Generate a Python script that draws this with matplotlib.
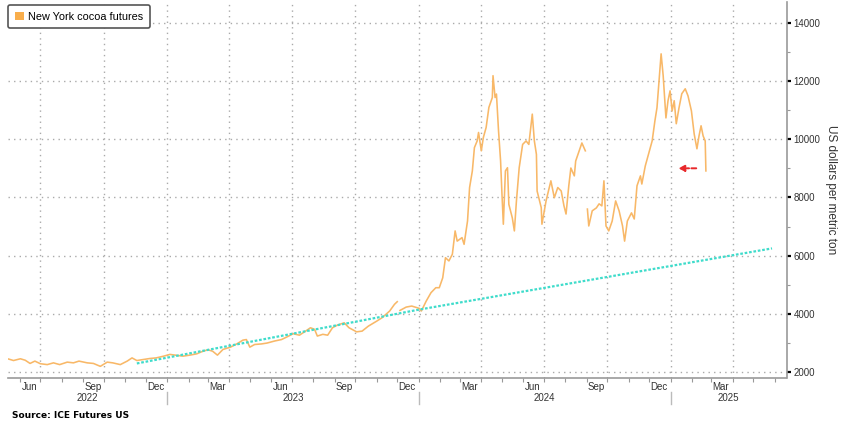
import numpy as np
import pandas as pd
import matplotlib
matplotlib.use('Agg')
import matplotlib.pyplot as plt
import matplotlib.dates as mdates
import matplotlib.transforms as mtransforms
from matplotlib.patches import Patch

# cocoa futures (NaN = hole in the line)
dates = [
    '2022-05-16', '2022-05-23', '2022-06-02', '2022-06-09', '2022-06-16', '2022-06-23',
    '2022-07-01', '2022-07-11', '2022-07-20', '2022-07-29', '2022-08-09', '2022-08-18',
    '2022-08-26', '2022-09-07', '2022-09-16', '2022-09-26', '2022-10-06', '2022-10-14',
    '2022-10-25', '2022-11-04', '2022-11-11', '2022-11-18', '2022-11-28', '2022-12-07',
    '2022-12-16', '2022-12-27', '2023-01-05', '2023-01-13', '2023-01-24', '2023-02-03',
    '2023-02-13', '2023-02-20', '2023-03-01', '2023-03-08', '2023-03-15', '2023-03-23',
    '2023-04-03', '2023-04-12', '2023-04-21', '2023-04-26', '2023-05-01', '2023-05-08',
    '2023-05-18', '2023-05-26', '2023-06-06', '2023-06-16', '2023-06-23', '2023-07-03',
    '2023-07-12', '2023-07-21', '2023-07-28', '2023-08-03', '2023-08-07', '2023-08-15',
    '2023-08-22', '2023-08-29', '2023-09-05', '2023-09-15', '2023-09-22', '2023-10-03',
    '2023-10-11', '2023-10-20', '2023-11-01', '2023-11-09', '2023-11-20', '2023-11-27',
    '2023-12-01', '2023-12-03', '2023-12-05', '2023-12-14', '2023-12-22', '2024-01-02',
    '2024-01-05', '2024-01-12', '2024-01-19', '2024-01-26', '2024-01-31', '2024-02-05',
    '2024-02-09', '2024-02-14', '2024-02-19', '2024-02-23', '2024-02-26', '2024-03-04',
    '2024-03-07', '2024-03-12', '2024-03-15', '2024-03-19', '2024-03-22', '2024-03-26',
    '2024-03-28', '2024-04-01', '2024-04-04', '2024-04-08', '2024-04-12', '2024-04-17',
    '2024-04-18', '2024-04-21', '2024-04-23', '2024-04-26', '2024-04-29', '2024-05-01',
    '2024-05-03', '2024-05-06', '2024-05-09', '2024-05-11', '2024-05-16', '2024-05-19',
    '2024-05-22', '2024-05-26', '2024-05-31', '2024-06-05', '2024-06-09', '2024-06-14',
    '2024-06-17', '2024-06-20', '2024-06-21', '2024-06-27', '2024-06-28', '2024-07-04',
    '2024-07-11', '2024-07-16', '2024-07-21', '2024-07-26', '2024-07-30', '2024-08-02',
    '2024-08-06', '2024-08-09', '2024-08-14', '2024-08-16', '2024-08-21', '2024-08-25',
    '2024-08-30', '2024-09-01', '2024-09-02', '2024-09-04', '2024-09-09', '2024-09-15',
    '2024-09-19', '2024-09-23', '2024-09-26', '2024-09-29', '2024-10-03', '2024-10-08',
    '2024-10-13', '2024-10-18', '2024-10-23', '2024-10-26', '2024-10-30', '2024-11-05',
    '2024-11-09', '2024-11-13', '2024-11-18', '2024-11-20', '2024-11-25', '2024-12-01',
    '2024-12-05', '2024-12-09', '2024-12-12', '2024-12-15', '2024-12-18', '2024-12-21',
    '2024-12-22', '2024-12-25', '2024-12-28', '2024-12-31', '2025-01-03', '2025-01-06',
    '2025-01-09', '2025-01-13', '2025-01-17', '2025-01-22', '2025-01-26', '2025-01-31',
    '2025-02-04', '2025-02-08', '2025-02-11', '2025-02-14', '2025-02-17', '2025-02-20',
    '2025-02-21',
]
price = [
    2450, 2400, 2460, 2410, 2300, 2380,
    2290, 2260, 2320, 2260, 2345, 2320,
    2380, 2320, 2300, 2200, 2345, 2320,
    2260, 2380, 2490, 2400, 2435, 2470,
    2490, 2550, 2610, 2585, 2550, 2585,
    2630, 2700, 2770, 2720, 2585, 2780,
    2860, 2970, 3100, 3120, 2860, 2950,
    2970, 3000, 3070, 3120, 3200, 3320,
    3270, 3410, 3525, 3470, 3240, 3300,
    3270, 3525, 3615, 3695, 3525, 3385,
    3410, 3580, 3750, 3870, 4100, 4330,
    4420, np.nan, 4120, 4235, 4270, 4190,
    4100, 4440, 4730, 4900, 4900, 5240,
    5930, 5820, 6050, 6850, 6500, 6620,
    6390, 7190, 8340, 8910, 9710, 9940,
    10230, 9600, 10060, 10400, 11090, 11430,
    12180, 11430, 11550, 10290, 9250, 8110,
    7080, 8910, 9020, 7760, 7300, 6850,
    7880, 9020, 9820, 9940, 9820, 10860,
    9940, 9480, 8220, 7650, 7080, 7880,
    8570, 7990, 8340, 8220, 7710, 7430,
    8400, 9010, 8740, 9250, 9600, 9870,
    9600, np.nan, 7600, 7020, 7540, 7640,
    7780, 7710, 8570, 7020, 6850, 7190,
    7880, 7540, 7020, 6500, 7190, 7470,
    7260, 8400, 8740, 8460, 9080, 9600,
    9940, 10630, 11080, 12000, 12930, 12180,
    11830, 10730, 11320, 11660, 10970, 11320,
    10530, 11080, 11560, 11730, 11490, 10970,
    10180, 9670, 10110, 10460, 10110, 9940,
    8910,
]

# dotted trend line
trend_dates = ['2022-11-18', '2024-01-02', '2025-05-28']
trend_values = [2300, 4150, 6250]

# red arrow marking the last print
arrow_from = '2025-02-07'
arrow_to = '2025-01-12'
arrow_level = 9000

series_name = 'New York cocoa futures'
y_title = 'US dollars per metric ton'
source = 'Source: ICE Futures US'

orange = '#F8B868'
teal = '#3FDCCB'
grey_txt = '#333333'

plt.rcParams['font.family'] = ['Liberation Sans', 'DejaVu Sans']

fig = plt.figure(figsize=(8.48, 4.22), dpi=100)
ax = fig.add_axes([8 / 848, 44 / 422, 778.5 / 848, 376 / 422])

x = pd.to_datetime(dates)
ax.plot(x, price, color=orange, lw=1.15)
ax.plot(pd.to_datetime(trend_dates), trend_values, color=teal, lw=1.6, ls=(0, (1.2, 0.8)))

ax.annotate('', xy=(pd.Timestamp(arrow_to), arrow_level),
            xytext=(pd.Timestamp(arrow_from), arrow_level),
            arrowprops=dict(arrowstyle='-|>,head_length=0.35,head_width=0.18',
                            color='#E8282B', lw=1.4, ls=(0, (2.5, 1.2)),
                            shrinkA=0, shrinkB=0))

ax.set_xlim(pd.Timestamp('2022-05-15'), pd.Timestamp('2025-06-18'))
ax.set_ylim(1800, 14710)

# y axis on the right
ax.yaxis.tick_right()
ax.yaxis.set_label_position('right')
ax.set_yticks(np.arange(2000, 14001, 2000))
ax.set_yticks(np.arange(3000, 14000, 2000), minor=True)
ax.tick_params(axis='y', which='major', length=3, width=1.6, color='black',
               labelsize=7, labelcolor=grey_txt, pad=2)
ax.tick_params(axis='y', which='minor', length=2, width=0.8, color='#999999')
ax.set_ylabel(y_title, rotation=270, labelpad=12, fontsize=8.5, color=grey_txt)

# x axis: month names mid-month (Jun 2022 .. Mar 2025), ticks at every month
month_ticks = pd.date_range('2022-06-01', '2025-03-01', freq='3MS') + pd.Timedelta(days=14)
ax.set_xticks(month_ticks)
ax.xaxis.set_major_formatter(mdates.DateFormatter('%b'))
ax.xaxis.set_minor_locator(mdates.MonthLocator())
ax.tick_params(axis='x', which='major', length=0, labelsize=7, labelcolor=grey_txt, pad=3)
ax.tick_params(axis='x', which='minor', length=3, width=0.8, color='#999999')

for side in ['left', 'top']:
    ax.spines[side].set_visible(False)
for side in ['right', 'bottom']:
    ax.spines[side].set_color('#9a9a9a')
    ax.spines[side].set_linewidth(1.2)

ax.grid(axis='y', which='major', ls=(0, (1, 3)), color='#aaaaaa', lw=1)
for d in pd.date_range('2022-07-01', '2025-04-01', freq='QS'):
    ax.axvline(d, ls=(0, (1, 3)), color='#aaaaaa', lw=1, zorder=0)

# year row under the months
trans = mtransforms.blended_transform_factory(ax.transData, ax.transAxes)
lo, hi = ax.get_xlim()
edges = [lo] + [mdates.date2num(pd.Timestamp(f'{y}-01-01')) for y in (2023, 2024, 2025)] + [hi]
for i, yr in enumerate(['2022', '2023', '2024', '2025']):
    ax.text((edges[i] + edges[i + 1]) / 2, -0.053, yr, transform=trans,
            ha='center', va='center', fontsize=7, color=grey_txt)
for e in edges[1:-1]:
    ax.plot([e, e], [-0.037, -0.068], transform=trans, clip_on=False,
            color='#bbbbbb', lw=1)

leg = ax.legend(handles=[Patch(facecolor='#F9AE4C', edgecolor='none', label=series_name)],
                loc='upper left', bbox_to_anchor=(0, 0.992), borderaxespad=0,
                fontsize=7.8, handlelength=0.85, handleheight=0.85, handletextpad=0.4,
                borderpad=0.6, fancybox=True, framealpha=1)
leg.get_frame().set_edgecolor('#555555')
leg.get_frame().set_linewidth(1.2)

fig.text(12 / 848, 7 / 422, source, fontweight='bold', fontsize=6.5,
         va='center', family='DejaVu Sans')

fig.savefig('out.png', dpi=100)
